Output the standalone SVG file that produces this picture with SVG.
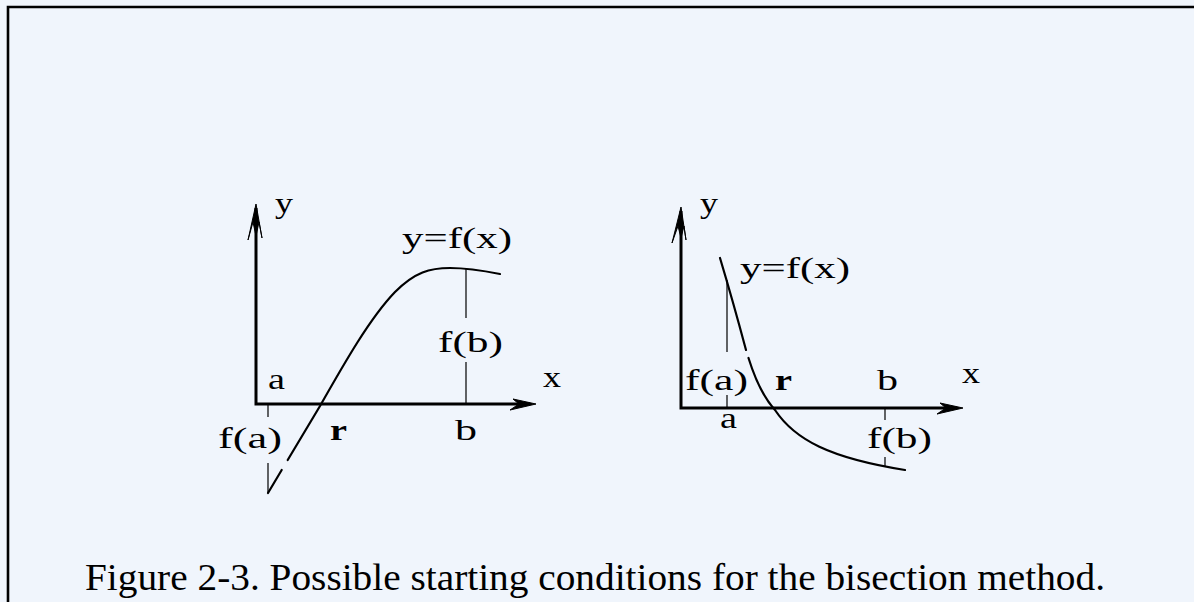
<svg xmlns="http://www.w3.org/2000/svg" width="1194" height="602" viewBox="0 0 1194 602">
<style>
.lbl{font-family:"Liberation Serif","Times New Roman",serif;font-size:30px;fill:#000}
.bold{font-weight:bold}
.cap{font-family:"Liberation Serif","Times New Roman",serif;font-size:37px;fill:#000}
.axis{stroke:#000;stroke-width:3;fill:none}
.thin{stroke:#000;stroke-width:1.2;fill:none}
.curve{stroke:#000;stroke-width:2.2;fill:none;stroke-linecap:round}
.head{fill:#000;stroke:#000;stroke-width:1}
</style>
<rect x="0" y="0" width="1194" height="602" fill="#f0f5fc"/>
<path d="M8,610 L8,7 L1200,7" stroke="#000" stroke-width="2.6" fill="none"/>

<g id="left-graph">
  <g id="left-connectors">
    <path class="axis" d="M256,208 L256,404 L530,404"/>
    <path class="head" d="M256,204 L248,240 L253,222 L256,236 L259,222 L262,238 Z"/>
    <path class="head" d="M536,404 L513,399 L519,404 L510,410 Z"/>
    <path class="curve" d="M268,493 L281.7,470 M287.7,460 L320,406 C345,362 370,318 395,292 C415,272 430,268 450,268 C470,268 485,271 500,274"/>
    <path class="thin" d="M268,404 L268,417 M268,463 L268,493 M466,269 L466,318 M466,362 L466,404"/>
  </g>
  <g id="left-labels">
    <text class="lbl" x="275" y="213" textLength="18" lengthAdjust="spacingAndGlyphs">y</text>
    <text class="lbl" x="402" y="248" textLength="110" lengthAdjust="spacingAndGlyphs">y=f(x)</text>
    <text class="lbl" x="438" y="352" textLength="65" lengthAdjust="spacingAndGlyphs">f(b)</text>
    <text class="lbl" x="268" y="389" textLength="17" lengthAdjust="spacingAndGlyphs">a</text>
    <text class="lbl" x="543" y="387" textLength="18" lengthAdjust="spacingAndGlyphs">x</text>
    <text class="lbl" x="218" y="448" textLength="64" lengthAdjust="spacingAndGlyphs">f(a)</text>
    <text class="lbl bold" x="330" y="440" textLength="17" lengthAdjust="spacingAndGlyphs">r</text>
    <text class="lbl" x="455" y="440" textLength="22" lengthAdjust="spacingAndGlyphs">b</text>
  </g>
</g>

<g id="right-graph">
  <g id="right-connectors">
    <path class="axis" d="M681,211 L681,408 L957,408"/>
    <path class="head" d="M681,207 L672,243 L678,226 L681,238 L684,226 L686,240 Z"/>
    <path class="head" d="M963,408 L940,403 L946,408 L937,414 Z"/>
    <path class="curve" d="M720,258 C729,288 738,320 746,350 M748.5,358 C756,382 764,398 775,410 C795,440 830,458 905,470"/>
    <path class="thin" d="M727,280 L727,352 M727,395 L727,408 M885,408 L885,420 M885,457 L885,467"/>
  </g>
  <g id="right-labels">
    <text class="lbl" x="700" y="213" textLength="18" lengthAdjust="spacingAndGlyphs">y</text>
    <text class="lbl" x="740" y="278" textLength="110" lengthAdjust="spacingAndGlyphs">y=f(x)</text>
    <text class="lbl" x="685" y="390" textLength="63" lengthAdjust="spacingAndGlyphs">f(a)</text>
    <text class="lbl bold" x="775" y="390" textLength="17" lengthAdjust="spacingAndGlyphs">r</text>
    <text class="lbl" x="877" y="390" textLength="21" lengthAdjust="spacingAndGlyphs">b</text>
    <text class="lbl" x="962" y="383" textLength="18" lengthAdjust="spacingAndGlyphs">x</text>
    <text class="lbl" x="720" y="428" textLength="17" lengthAdjust="spacingAndGlyphs">a</text>
    <text class="lbl" x="867" y="448" textLength="65" lengthAdjust="spacingAndGlyphs">f(b)</text>
  </g>
</g>

<g id="caption">
  <text class="cap" x="85" y="590" textLength="1020" lengthAdjust="spacingAndGlyphs">Figure 2-3. Possible starting conditions for the bisection method.</text>
</g>
</svg>
